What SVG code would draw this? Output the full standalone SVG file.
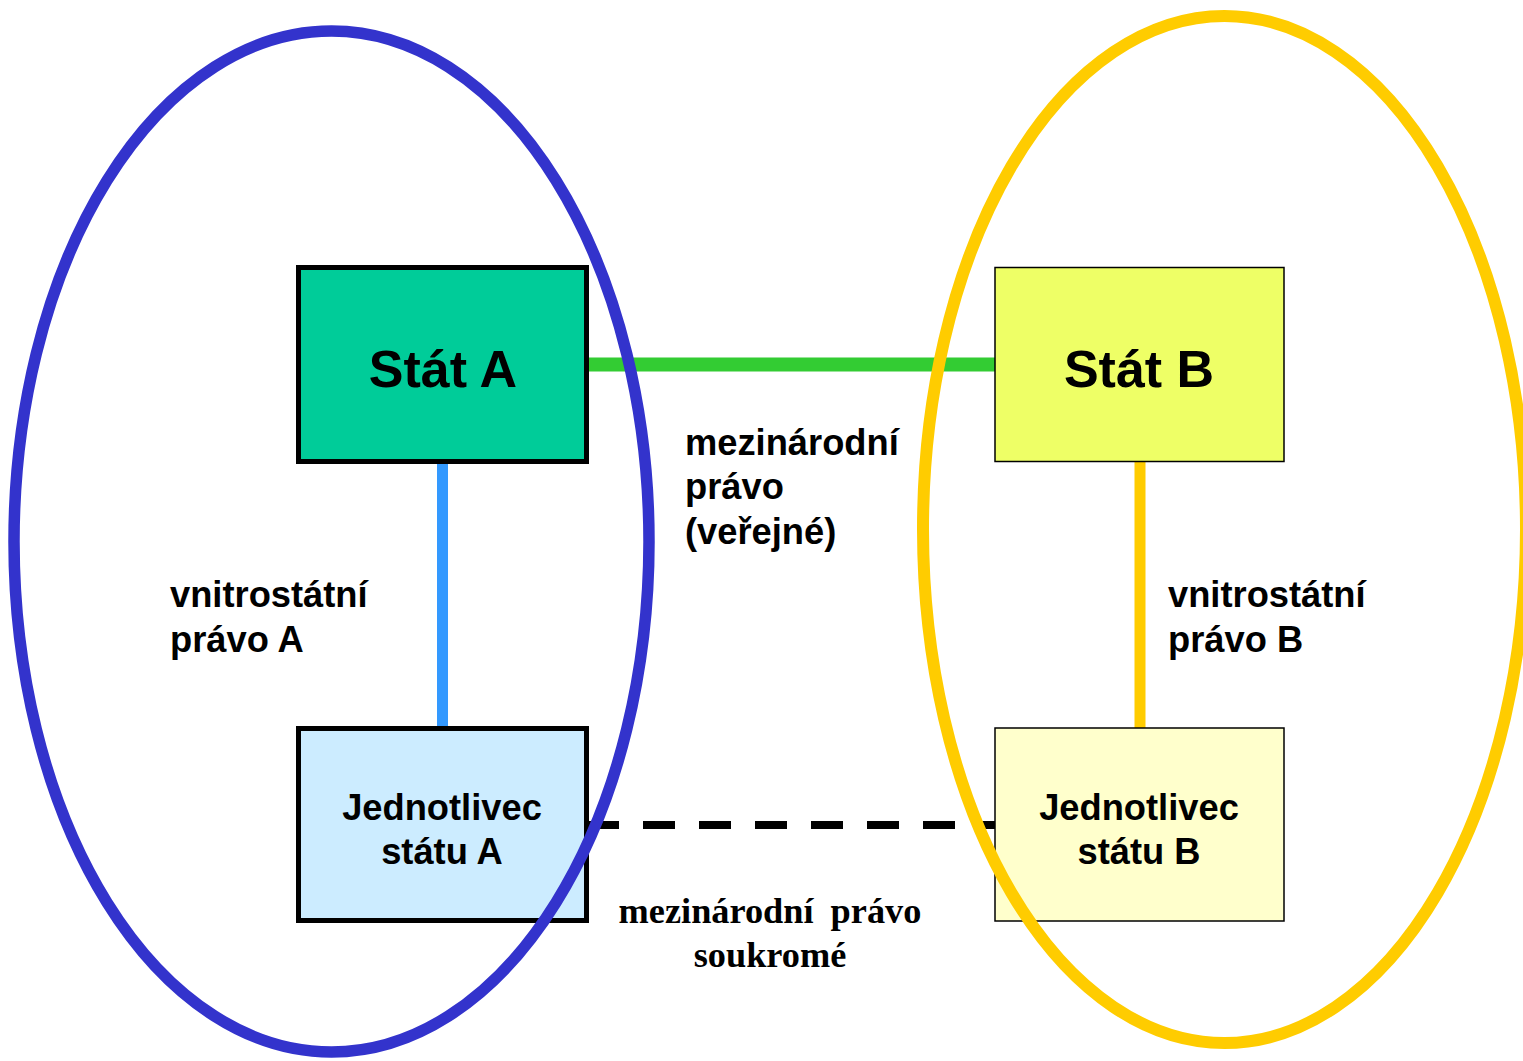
<svg xmlns="http://www.w3.org/2000/svg" width="1523" height="1061" viewBox="0 0 1523 1061">
<style>
.sans{font-family:"Liberation Sans",Arial,sans-serif;font-weight:bold;fill:#000}
.serif{font-family:"Liberation Serif","Times New Roman",serif;font-weight:bold;fill:#000}
.big{font-size:52px}
.mid{font-size:36.3px}
.thick{stroke:#000;stroke-width:5}
.thin{stroke:#000;stroke-width:1.5}
</style>
<rect width="1523" height="1061" fill="#fff"/>
<g id="connectors" fill="none">
<line x1="587" y1="364.5" x2="995" y2="364.5" stroke="#33CC33" stroke-width="14"/>
<line x1="442.5" y1="463" x2="442.5" y2="727" stroke="#3399FF" stroke-width="11"/>
<line x1="1140" y1="462" x2="1140" y2="728" stroke="#FFCC00" stroke-width="11"/>
<line x1="587" y1="825" x2="995" y2="825" stroke="#000" stroke-width="8" stroke-dasharray="32 24"/>
</g>
<g id="statA">
<rect class="thick" x="298.5" y="267.5" width="288" height="194" fill="#00CC99"/>
<text class="sans big" x="443" y="387" text-anchor="middle">Stát A</text>
</g>
<g id="statB">
<rect class="thin" x="995" y="267.5" width="289" height="194" fill="#EEFF66"/>
<text class="sans big" x="1139" y="387" text-anchor="middle">Stát B</text>
</g>
<g id="jednotlivecA">
<rect class="thick" x="298.5" y="728.5" width="288" height="192" fill="#CCECFF"/>
<text class="sans mid" x="442" y="820" text-anchor="middle">Jednotlivec</text>
<text class="sans mid" x="442" y="864" text-anchor="middle">státu A</text>
</g>
<g id="jednotlivecB">
<rect class="thin" x="995" y="728" width="289" height="193" fill="#FFFFCC"/>
<text class="sans mid" x="1139" y="820" text-anchor="middle">Jednotlivec</text>
<text class="sans mid" x="1139" y="864" text-anchor="middle">státu B</text>
</g>
<g id="ellipseA">
<ellipse cx="331.5" cy="541.5" rx="317.5" ry="510.5" fill="none" stroke="#3333CC" stroke-width="11.5"/>
</g>
<g id="ellipseB">
<ellipse cx="1224.5" cy="529.5" rx="301.5" ry="513.5" fill="none" stroke="#FFCC00" stroke-width="12"/>
</g>
<g id="labels">
<text class="sans mid" x="685" y="455">mezinárodní</text>
<text class="sans mid" x="685" y="499">právo</text>
<text class="sans mid" x="685" y="544">(veřejné)</text>
<text class="sans mid" x="170" y="607">vnitrostátní</text>
<text class="sans mid" x="170" y="652">právo A</text>
<text class="sans mid" x="1168" y="607">vnitrostátní</text>
<text class="sans mid" x="1168" y="652">právo B</text>
<text class="serif mid" x="770" y="923" text-anchor="middle" word-spacing="8">mezinárodní právo</text>
<text class="serif mid" x="770" y="967" text-anchor="middle">soukromé</text>
</g>
</svg>
